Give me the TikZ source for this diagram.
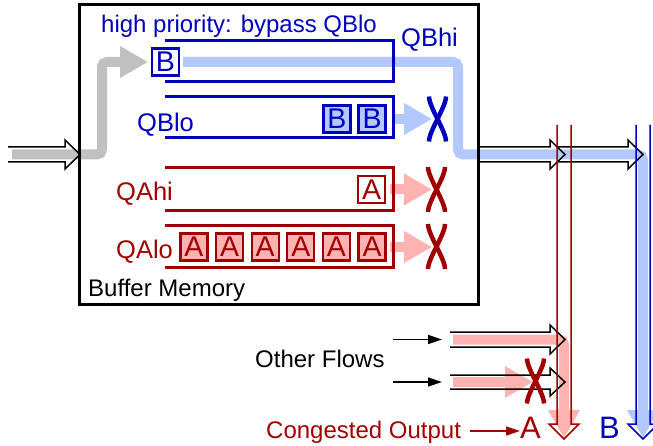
\documentclass[tikz,border=0pt]{standalone}
\usepackage{fontspec}
\setmainfont{Liberation Sans}
\usetikzlibrary{arrows.meta}
\definecolor{dblue}{RGB}{0,0,190}
\definecolor{dred}{RGB}{160,0,0}
\definecolor{lblue}{RGB}{178,200,255}
\definecolor{lpink}{RGB}{255,178,178}
\definecolor{lgray}{RGB}{192,192,192}
\newcommand\txtfont{\fontsize{24}{24}\selectfont}
\newcommand\qfont{\fontsize{25.5}{25.5}\selectfont}
\newcommand\pktfont{\fontsize{28.5}{28.5}\selectfont}
\newcommand\bigfont{\fontsize{31}{31}\selectfont}
\newcommand\xmarkat[3]{% color, center x, center y
  \draw[xmark, #1] (#2-8.5,#3-22.5) .. controls (#2-8.5,#3-12) and (#2+8.5,#3+12) .. (#2+8.5,#3+22.5);
  \draw[xmark, #1] (#2+8.5,#3-22.5) .. controls (#2+8.5,#3-12) and (#2-8.5,#3+12) .. (#2-8.5,#3+22.5);
}
\tikzset{
  flow/.style={line width=10pt, rounded corners=5pt, -{Triangle[length=28pt,width=30pt]}},
  blockarrow/.style={line width=1.5pt, line join=miter},
  queue/.style={line width=3pt},
  pkt/.style={draw, line width=2.3pt, minimum width=27pt, minimum height=27pt, inner sep=0pt, font=\pktfont},
  xmark/.style={line width=4.5pt},
  lbl/.style={inner sep=0pt, anchor=base west, font=\txtfont},
  qlbl/.style={inner sep=0pt, anchor=base west, font=\qfont},
  thinarrow/.style={line width=1.5pt, -{Triangle[length=14pt,width=9pt]}},
}
\begin{document}
\begin{tikzpicture}[x=1pt,y=-1pt]
\useasboundingbox (0,0) rectangle (653,446);

% named points for flows
\coordinate (inS) at (12,154.5);
\coordinate (inC1) at (102,154.5);
\coordinate (inC2) at (102,62);
\coordinate (inE) at (148,62);
\coordinate (bhS) at (183,62);
\coordinate (bhC1) at (458,62);
\coordinate (bhC2) at (458,154.5);
\coordinate (bhC3) at (643,154.5);
\coordinate (bhE) at (643,438);
\coordinate (of1S) at (453,339.5);
\coordinate (of1C) at (564,339.5);
\coordinate (of1E) at (564,438);
\coordinate (of2S) at (453,382);
\coordinate (of2E) at (533,382);

% flows
\draw[flow, lgray] (inS) -- (inC1) -- (inC2) -- (inE);
\draw[flow, lblue] (bhS) -- (bhC1) -- (bhC2) -- (bhC3) -- (bhE);
\draw[flow, lblue] (392,119) -- (432,119);
\draw[flow, lpink] (390,189.5) -- (432,189.5);
\draw[flow, lpink] (390,247) -- (432,247);
\draw[flow, lpink] (of1S) -- (of1C) -- (of1E);
\draw[flow, lpink] (of2S) -- (of2E);

% block arrow outlines
\draw[blockarrow] (8,147) -- (65,147) -- (65,140) -- (80,154.5) -- (65,169) -- (65,162) -- (8,162);
\draw[blockarrow] (479,147) -- (550,147) -- (550,140) -- (565,154.5) -- (550,169) -- (550,162) -- (479,162);
\draw[blockarrow] (557,147) -- (628,147) -- (628,140) -- (643,154.5) -- (628,169) -- (628,162) -- (557,162);
\draw[blockarrow] (450,332) -- (550,332) -- (550,325) -- (565,339.5) -- (550,354) -- (550,347) -- (450,347);
\draw[blockarrow] (450,375) -- (550,375) -- (550,368) -- (565,382) -- (550,396) -- (550,389) -- (450,389);
\draw[blockarrow, dred] (557,125) -- (557,424) -- (549,424) -- (564,439) -- (579,424) -- (571,424) -- (571,125);
\draw[blockarrow, dblue] (636,125) -- (636,424) -- (628,424) -- (643,439) -- (658,424) -- (650,424) -- (650,125);

% buffer memory
\draw[line width=3pt] (79,5) rectangle (478,304);

% queues
\draw[queue, dblue] (165,41) -- (393,41) -- (393,82) -- (165,82);
\draw[queue, dblue] (165,97) -- (393,97) -- (393,138) -- (165,138);
\draw[queue, dred] (165,168) -- (393,168) -- (393,211) -- (165,211);
\draw[queue, dred] (165,226) -- (393,226) -- (393,268) -- (165,268);

% packets
\node[pkt, dblue, fill=white] (pb0) at (165.5,62) {B};
\node[pkt, dblue, fill=lblue] (pb1) at (337,119) {B};
\node[pkt, dblue, fill=lblue] (pb2) at (372,119) {B};
\node[pkt, dred, fill=white] (pa0) at (371.5,189.5) {A};
\foreach \i/\x in {1/194,2/229.6,3/265.2,4/300.8,5/336.4,6/372}
  \node[pkt, dred, fill=lpink] (pa\i) at (\x,247) {A};

% X marks
\xmarkat{dblue}{437.5}{119}
\xmarkat{dred}{436.5}{189.5}
\xmarkat{dred}{436.5}{246.5}
\xmarkat{dred}{535.5}{381}

% labels
\node[lbl, dblue] (hp) at (101,33) {high priority: bypass QBlo};
\node[qlbl, dblue] (qbhi) at (401,47) {QBhi};
\node[qlbl, dblue] (qblo) at (137,132) {QBlo};
\node[qlbl, dred] (qahi) at (116,201) {QAhi};
\node[qlbl, dred] (qalo) at (116,259) {QAlo};
\node[lbl] (bm) at (88,297) {Buffer Memory};
\node[lbl] (of) at (255,367) {Other Flows};
\node[lbl, dred] (co) at (266,438) {Congested Output};
\node[inner sep=0pt, anchor=base west, font=\bigfont, dred] (la) at (520,438) {A};
\node[inner sep=0pt, anchor=base west, font=\bigfont, dblue] (lb) at (599,438) {B};

% thin arrows
\coordinate (o1s) at (393,339.5);
\coordinate (o1e) at (442,339.5);
\coordinate (o2s) at (393,382);
\coordinate (o2e) at (442,382);
\draw[thinarrow] (o1s) -- (o1e);
\draw[thinarrow] (o2s) -- (o2e);
\coordinate (cos) at (470,431);
\draw[thinarrow, dred] (cos) -- (la.west |- cos);
\end{tikzpicture}
\end{document}
